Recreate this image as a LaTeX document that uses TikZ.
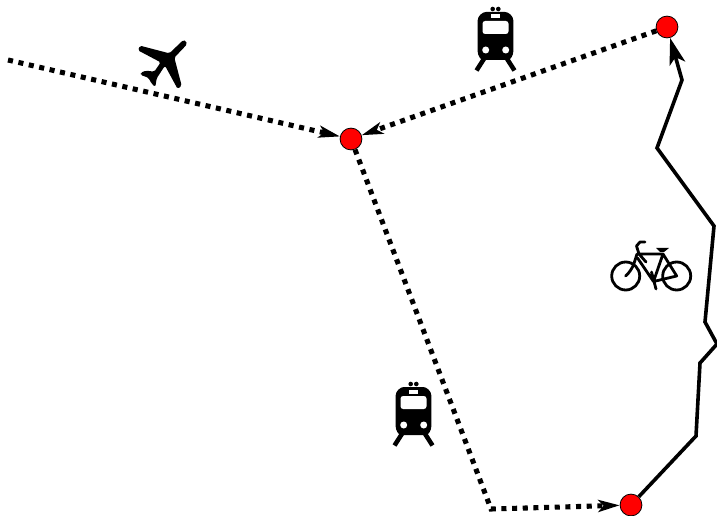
\documentclass[tikz,border=0pt]{standalone}
\usetikzlibrary{arrows.meta}
\tikzset{
  stopnode/.style={circle,draw=black,fill=red,line width=0.6pt,minimum size=16.4pt,inner sep=0pt},
  transit/.style={-{Stealth[length=16pt,width=9pt,inset=4pt]},line width=3.8pt,dash pattern=on 3.8pt off 4.2pt},
  ride/.style={-{Stealth[length=20pt,width=12pt,inset=5pt]},line width=2.7pt,line join=miter},
  railleg/.style={line width=3.4pt},
  bikepart/.style={line width=2.1pt,line cap=round,line join=round},
  train/.pic={
    \fill (-2.8,-18) circle (2.3) (2.8,-18) circle (2.3);
    \fill[rounded corners=2pt] (-17.8,-4) .. controls (-17.8,-11) and (-13,-15) .. (-7,-15) -- (7,-15) .. controls (13,-15) and (17.8,-11) .. (17.8,-4) -- (17.8,22) .. controls (17.8,28) and (15,33) .. (10,33) -- (-10,33) .. controls (-15,33) and (-17.8,28) .. (-17.8,22) -- cycle;
    \fill[white,rounded corners=2pt] (-13,-6) rectangle (13,7);
    \fill[white] (-4.5,-12.5) rectangle (4.5,-8.5);
    \fill[white] (-9.8,23) circle (3.5) (10.2,23) circle (3.5);
    \draw[railleg] (-11,31) -- (-19,43.5) (11,31) -- (19,43.5);
  },
}
\begin{document}
\begin{tikzpicture}[x=0.75pt,y=-0.75pt]
\useasboundingbox (0,0) rectangle (717,516);
\node[stopnode] (hub) at (351,139) {};
\node[stopnode] (north) at (667,27) {};
\node[stopnode] (south) at (631,505) {};
\coordinate (origin) at (8,60);
\coordinate (turn) at (491,509);
\draw[transit] (origin) -- (hub);
\draw[transit] (north) -- (hub);
\draw[transit] (hub) -- (turn) -- (south);
\draw[ride] (south) -- (696,436) -- (700,363) -- (717,344) -- (705,322) -- (714,226) -- (657,148) -- (682,80) -- (north);
\pic at (495.5,27) {train};
\pic at (413.5,402) {train};
% aeroplane
\begin{scope}[shift={(120,25)},x=0.25pt,y=-0.25pt]
\fill[rounded corners=1.2pt] (190,45) -- (198,48) -- (201,58) -- (163,98) -- (185,182) -- (173,192) -- (135,122) -- (110,160) -- (106,186) -- (95,176) -- (85,158) -- (62,150) -- (62,143) -- (78,137) -- (103,140) -- (122,112) -- (54,76) -- (60,62) -- (148,85) -- cycle;
\end{scope}
% bicycle
\draw[bikepart] (625.7,276) circle (14) (676.7,276) circle (14);
\draw[bikepart] (639,254) -- (663,254) -- (653.5,281.5) -- (637.5,258) (653.5,281.5) -- (676.7,276) -- (663,254)
  (636.5,246) -- (639,254) -- (646,262)
  (636.5,246) -- (640,242) -- (645,242)
  (625.7,276) .. controls (630,272) and (632,268) .. (633.5,265) -- (637,254)
  (651.5,272) -- (656,289);
\fill (656,248) -- (669,248) -- (664,252) -- (660,252) -- cycle;
\end{tikzpicture}
\end{document}
